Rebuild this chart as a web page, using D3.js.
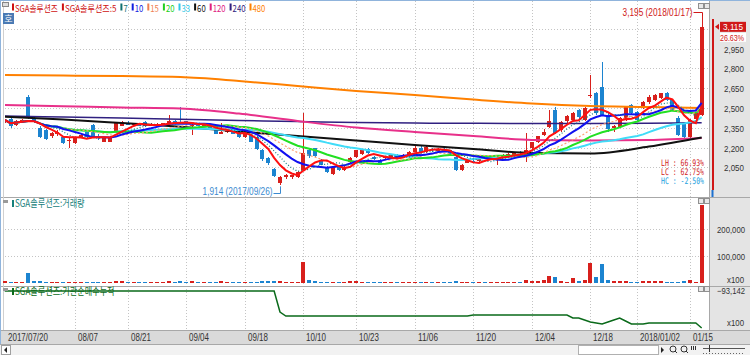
<!DOCTYPE html>
<html>
<head>
<meta charset="utf-8">
<script src="https://cdn.jsdelivr.net/npm/d3@7/dist/d3.min.js"></script>
<style>
  body { margin: 0; background: #fff; }
  svg text { font-family: "Liberation Sans", Arial, sans-serif; }
</style>
</head>
<body>
<div id="chart"></div>
<script>
// trading days on screen
const dates = [
  '2017-07-20','2017-07-21','2017-07-24','2017-07-25','2017-07-26','2017-07-27','2017-07-28','2017-07-31',
  '2017-08-01','2017-08-02','2017-08-03','2017-08-04','2017-08-07','2017-08-08','2017-08-09','2017-08-10',
  '2017-08-11','2017-08-14','2017-08-16','2017-08-17','2017-08-18','2017-08-21','2017-08-22','2017-08-23',
  '2017-08-24','2017-08-25','2017-08-28','2017-08-29','2017-08-30','2017-08-31','2017-09-01','2017-09-04',
  '2017-09-05','2017-09-06','2017-09-07','2017-09-08','2017-09-11','2017-09-12','2017-09-13','2017-09-14',
  '2017-09-15','2017-09-18','2017-09-19','2017-09-20','2017-09-21','2017-09-22','2017-09-25','2017-09-26',
  '2017-09-27','2017-09-28','2017-09-29','2017-10-10','2017-10-11','2017-10-12','2017-10-13','2017-10-16',
  '2017-10-17','2017-10-18','2017-10-19','2017-10-20','2017-10-23','2017-10-24','2017-10-25','2017-10-26',
  '2017-10-27','2017-10-30','2017-10-31','2017-11-01','2017-11-02','2017-11-03','2017-11-06','2017-11-07',
  '2017-11-08','2017-11-09','2017-11-10','2017-11-13','2017-11-14','2017-11-15','2017-11-16','2017-11-17',
  '2017-11-20','2017-11-21','2017-11-22','2017-11-23','2017-11-24','2017-11-27','2017-11-28','2017-11-29',
  '2017-11-30','2017-12-01','2017-12-04','2017-12-05','2017-12-06','2017-12-07','2017-12-08','2017-12-11',
  '2017-12-12','2017-12-13','2017-12-14','2017-12-15','2017-12-18','2017-12-19','2017-12-20','2017-12-21',
  '2017-12-22','2017-12-26','2017-12-27','2017-12-28','2018-01-02','2018-01-03','2018-01-04','2018-01-05',
  '2018-01-08','2018-01-09','2018-01-10','2018-01-11','2018-01-12','2018-01-15','2018-01-16','2018-01-17'
];

const opens = [
  2395,2415,2370,2400,2580,2420,2345,2330,2285,2300, 2280,2250,2235,2275,2315,2370,2290,2245,2245,2320,
  2365,2390,2375,2385,2395,2365,2375,2380,2385,2400, 2395,2400,2360,2370,2365,2360,2330,2305,2320,2325,
  2315,2280,2295,2280,2180,2125,2035,1935,1975,1975, 1975,2030,2180,2195,2105,2055,2000,2055,2030,2090,
  2130,2150,2190,2130,2105,2120,2130,2140,2135,2130, 2170,2200,2165,2190,2180,2185,2180,2130,2030,2085,
  2100,2095,2125,2115,2105,2130,2140,2145,2165,2130, 2200,2240,2295,2355,2485,2330,2400,2410,2485,2410,
  2590,2615,2660,2445,2345,2355,2410,2520,2470,2505, 2545,2560,2575,2610,2560,2425,2385,2280,2420,2450
];
const highs = [
  2420,2425,2410,2420,2600,2435,2360,2340,2320,2330, 2290,2275,2275,2300,2320,2380,2300,2275,2285,2395,
  2400,2400,2390,2390,2400,2385,2390,2390,2450,2410, 2505,2405,2385,2380,2375,2370,2335,2385,2335,2330,
  2320,2330,2300,2285,2190,2130,2045,1985,2000,1995, 2020,2460,2190,2200,2110,2060,2055,2060,2060,2130,
  2185,2185,2195,2135,2110,2140,2150,2150,2150,2175, 2210,2210,2210,2200,2195,2195,2185,2135,2075,2110,
  2110,2130,2135,2135,2135,2150,2160,2170,2175,2310, 2245,2290,2340,2485,2510,2400,2450,2470,2495,2510,
  2750,2625,2850,2460,2370,2430,2515,2530,2480,2550, 2600,2605,2615,2620,2570,2440,2395,2420,2470,3195
];
const lows = [
  2385,2350,2365,2390,2420,2385,2270,2255,2275,2290, 2230,2200,2230,2270,2275,2270,2260,2240,2240,2310,
  2360,2370,2365,2360,2355,2360,2365,2370,2380,2380, 2385,2380,2295,2360,2355,2345,2300,2300,2310,2300,
  2275,2275,2240,2185,2100,2070,1980,1914,1960,1965, 1970,2025,2125,2130,2065,2010,1995,2025,2025,2085,
  2125,2145,2155,2105,2065,2110,2120,2125,2130,2125, 2165,2165,2160,2170,2170,2170,2140,2025,2025,2080,
  2090,2090,2110,2110,2070,2125,2135,2140,2150,2090, 2190,2235,2290,2350,2305,2320,2390,2400,2420,2400,
  2575,2450,2440,2320,2320,2350,2400,2455,2405,2495, 2530,2555,2570,2555,2475,2290,2275,2275,2415,2440
];
const closes = [
  2410,2360,2400,2410,2430,2395,2280,2265,2310,2320, 2235,2260,2270,2295,2280,2280,2270,2270,2280,2390,
  2395,2375,2380,2365,2360,2375,2380,2385,2405,2385, 2390,2385,2370,2365,2370,2350,2305,2315,2330,2305,
  2280,2325,2245,2190,2110,2080,1985,1975,1990,1990, 2015,2160,2135,2135,2070,2015,2050,2030,2055,2125,
  2180,2180,2160,2110,2070,2130,2145,2135,2145,2165, 2200,2170,2205,2180,2185,2175,2145,2030,2065,2105,
  2095,2120,2115,2125,2125,2140,2150,2165,2160,2180, 2240,2285,2315,2405,2310,2395,2440,2460,2430,2500,
  2600,2460,2445,2340,2360,2425,2505,2460,2410,2545, 2580,2595,2610,2560,2480,2295,2280,2410,2460,3115
];

// volume, x100 shares
const volumes = [
  6000,5000,4000,4000,37000,9000,6000,5000,3000,3000, 5000,4000,3000,3000,3000,5000,3000,3000,4000,8000,
  6000,3000,3000,3000,3000,3000,3000,3000,7000,4000, 6000,4000,9000,3000,3000,3000,4000,7000,4000,4000,
  4000,5000,4000,5000,6000,6000,8000,9000,5000,5000, 5000,78000,12000,9000,5000,5000,5000,4000,4000,6000,
  6000,5000,4000,4000,4000,3000,3000,3000,3000,4000, 5000,3000,4000,3000,3000,3000,3000,6000,4000,4000,
  3000,3000,3000,3000,5000,3000,3000,4000,3000,12000, 8000,8000,10000,26000,22000,6000,5000,18000,6000,10000,
  74000,22000,70000,12000,6000,6000,6000,5000,5000,6000, 8000,6000,6000,5000,5000,5000,8000,10000,4000,289000
];

// institutional net buying, cumulative (x100)
const instCum = [
  -93142,-93142,-93142,-93142,-93142,-93142,-93142,-93142,-93142,-93142,
  -93142,-93142,-93142,-93142,-93142,-93142,-93142,-93142,-93142,-93142,
  -93142,-93142,-93142,-93142,-93142,-93142,-93142,-93142,-93142,-93142,
  -93142,-93142,-93142,-93142,-93142,-93142,-93142,-93142,-93142,-93142,
  -93142,-93142,-93142,-93142,-93142,-93142,-93142,-114142,-118142,-118142,
  -118142,-118142,-118142,-118142,-118142,-118142,-118142,-118142,-118142,-118142,
  -118142,-118142,-118142,-118142,-118142,-118142,-118142,-118142,-118142,-118142,
  -118142,-118142,-118142,-118142,-118142,-118142,-118142,-118142,-118142,-118142,
  -117142,-117142,-117142,-117142,-117142,-117142,-117142,-117142,-117142,-117142,
  -117142,-117142,-117142,-117142,-117142,-117142,-117142,-120142,-120142,-122142,
  -124142,-125142,-126142,-124142,-122142,-120142,-123142,-126142,-126142,-126142,
  -125142,-125142,-125142,-125142,-125142,-125142,-125142,-125142,-125142,-130142
];

// long averages at these bars
const longIdx = [0, 10, 20, 30, 40, 50, 60, 70, 80, 90, 100, 110, 119];
const ma60 = [2434, 2413, 2386, 2358, 2322, 2288, 2254, 2220, 2189, 2159, 2155, 2208, 2277];
const ma120 = [2523, 2513, 2504, 2496, 2458, 2402, 2352, 2318, 2288, 2258, 2254, 2258, 2273];
const ma240 = [2439, 2432, 2424, 2414, 2405, 2398, 2390, 2386, 2384, 2383, 2383, 2385, 2388];
const ma480 = [2750, 2746, 2742, 2735, 2705, 2667, 2629, 2598, 2564, 2534, 2515, 2508, 2500];

const priceTicks = [2050, 2200, 2350, 2500, 2650, 2800, 2950, 3100];
const volTicks = [100000, 200000];
const tickDates = ['2017-07-20','2017-08-07','2017-08-21','2017-09-04','2017-09-18','2017-10-10','2017-10-23',
  '2017-11-06','2017-11-20','2017-12-04','2017-12-18','2018-01-02','2018-01-15'];
const tickLabels = ['2017/07/20','08/07','08/21','09/04','09/18','10/10','10/23','11/06','11/20','12/04','12/18','2018/01/02','01/15'];

const legendNames = ['SGA솔루션즈', 'SGA솔루션즈:5', '7', '10', '15', '20', '33', '60', '120', '240', '480'];
const legendColors = ['#d01010', '#d01010', '#107070', '#1020e0', '#f08050', '#20d020', '#30c8e8', '#111', '#e0207f', '#302080', '#ff8000'];

const UP = '#d8201c', DOWN = '#1c84d0';
const KR = '"Noto Sans CJK KR", sans-serif';

const W = 750, H = 355;
const svg = d3.select('#chart').append('svg')
  .attr('width', W).attr('height', H)
  .style('display', 'block');

const x = d3.scaleBand().domain(dates).range([1.8, 704.6]);
const cx = d => x(d) + x.bandwidth() / 2;
const yP = d3.scaleLinear().domain([2050, 3100]).range([167.4, 28.8]);
const yV = d3.scaleLinear().domain([0, 200000]).range([283, 229]);
const yI = d3.scaleLinear().domain(d3.extent(instCum)).range([328, 291]);

function estW(s) {
  let w = 0;
  for (const ch of s) w += ch.charCodeAt(0) >= 0xAC00 ? 7.5 : 4.3;
  return w;
}
// narrow text: squeeze the glyphs horizontally to the width the HTS font takes
function label(g, s, tx, ty, o = {}) {
  const t = g.append('text')
    .attr('fill', o.color || '#333')
    .style('font-size', (o.size || 10) + 'px')
    .text(s);
  if (o.anchor) t.attr('text-anchor', o.anchor);
  if (o.family) t.style('font-family', o.family);
  const nat = t.node().getComputedTextLength() || 1;
  const sx = (o.w || estW(s)) / nat;
  t.attr('transform', `translate(${tx},${ty}) scale(${sx.toFixed(3)},1)`);
  return t;
}
const fmt = d3.format(',');

// backgrounds
svg.append('rect').attr('width', W).attr('height', H).attr('fill', '#fff');
svg.append('rect').attr('x', 710).attr('y', 0).attr('width', 40).attr('height', 330).attr('fill', '#e4e4e4');
svg.append('rect').attr('x', 0).attr('y', 330).attr('width', W).attr('height', 14).attr('fill', '#dadada');
svg.append('rect').attr('x', 0).attr('y', 344).attr('width', W).attr('height', 11).attr('fill', '#f2f2f2');

// grid
const grid = svg.append('g').attr('stroke', '#c4c4c4').attr('stroke-dasharray', '1,2');
grid.selectAll('line.h').data(priceTicks).enter().append('line')
  .attr('x1', 5).attr('x2', 709)
  .attr('y1', d => Math.round(yP(d)) + 0.5).attr('y2', d => Math.round(yP(d)) + 0.5);
grid.selectAll('line.v').data(volTicks).enter().append('line')
  .attr('x1', 5).attr('x2', 709)
  .attr('y1', d => Math.round(yV(d)) + 0.5).attr('y2', d => Math.round(yV(d)) + 0.5);
grid.selectAll('line.t').data(tickDates.slice(1)).enter().append('line')
  .attr('x1', d => Math.round(cx(d)) + 0.5).attr('x2', d => Math.round(cx(d)) + 0.5)
  .attr('y1', 1).attr('y2', 330);

// frame lines
const frame = svg.append('g').attr('stroke', '#a8a8a8').attr('shape-rendering', 'crispEdges');
frame.append('line').attr('x1', 0).attr('x2', W).attr('y1', 197.5).attr('y2', 197.5);
frame.append('line').attr('x1', 0).attr('x2', W).attr('y1', 286.5).attr('y2', 286.5);
frame.append('line').attr('x1', 709.5).attr('x2', 709.5).attr('y1', 0).attr('y2', 330);
frame.append('line').attr('x1', 0).attr('x2', W).attr('y1', 330.5).attr('y2', 330.5);
frame.append('line').attr('x1', 0).attr('x2', W).attr('y1', 344.5).attr('y2', 344.5);
frame.append('line').attr('x1', 3.5).attr('x2', 3.5).attr('y1', 0).attr('y2', 330).attr('stroke', '#d0d0d0');
svg.append('line').attr('x1', 0).attr('x2', W).attr('y1', 0.5).attr('y2', 0.5).attr('stroke', '#90b4dc');
svg.append('line').attr('x1', 0.5).attr('x2', 0.5).attr('y1', 0).attr('y2', 344).attr('stroke', '#90b4dc');

// price panel
svg.append('clipPath').attr('id', 'clipP').append('rect')
  .attr('x', 5).attr('y', 1).attr('width', 704).attr('height', 196);
const pricePanel = svg.append('g').attr('clip-path', 'url(#clipP)');

const candles = pricePanel.append('g').attr('shape-rendering', 'crispEdges')
  .selectAll('g').data(dates).enter().append('g')
  .attr('fill', (d, i) => closes[i] >= opens[i] ? UP : DOWN);
candles.append('rect')
  .attr('x', d => Math.round(cx(d) - 2) + 2)
  .attr('width', 1)
  .attr('y', (d, i) => yP(highs[i]))
  .attr('height', (d, i) => yP(lows[i]) - yP(highs[i]));
candles.append('rect')
  .attr('x', d => Math.round(cx(d) - 2))
  .attr('width', 4)
  .attr('y', (d, i) => yP(Math.max(opens[i], closes[i])))
  .attr('height', (d, i) => Math.max(1, Math.abs(yP(opens[i]) - yP(closes[i]))));

// moving averages
function movingAvg(n) {
  return closes.map((c, i) => [i, d3.mean(closes.slice(Math.max(0, i - n + 1), i + 1))]);
}
const maLine = d3.line().x(d => cx(dates[d[0]])).y(d => yP(d[1]));
const maLong = d3.line().curve(d3.curveMonotoneX).x(d => cx(dates[d[0]])).y(d => yP(d[1]));
const lines = pricePanel.append('g').attr('fill', 'none');
[[ma480, '#ff8000', 2], [ma240, '#302080', 1.5], [ma120, '#e8308a', 2], [ma60, '#111', 2]].forEach(s => {
  lines.append('path')
    .attr('d', maLong(longIdx.map((k, j) => [k, s[0][j]])))
    .attr('stroke', s[1]).attr('stroke-width', s[2]);
});
[[33, '#40dcf8', 2, null], [20, '#22e022', 2, null], [15, '#ffa070', 1.2, '2,2'],
 [10, '#1010f0', 2, null], [7, '#108080', 1.2, '1,2'], [5, '#ff1010', 2, null]].forEach(s => {
  lines.append('path')
    .attr('d', maLine(movingAvg(s[0])))
    .attr('stroke', s[1]).attr('stroke-width', s[2])
    .attr('stroke-dasharray', s[3]);
});

// high / low markers
const hiIdx = d3.maxIndex(highs), loIdx = d3.minIndex(lows);
const hiText = fmt(highs[hiIdx]) + ' (' + dates[hiIdx].replace(/-/g, '/') + ')';
const loText = fmt(lows[loIdx]) + ' (' + dates[loIdx].replace(/-/g, '/') + ')';
const hx = Math.round(cx(dates[hiIdx])) + 0.5, lx = Math.round(cx(dates[loIdx])) + 0.5;
label(svg, hiText, hx - 10, 16, { color: '#d01818', anchor: 'end', w: 70 });
svg.append('path').attr('fill', 'none').attr('stroke', '#d01818')
  .attr('d', `M${hx - 9},12.5H${hx}V${yP(highs[hiIdx])}`);
label(svg, loText, lx - 8, 195, { color: '#3a8ad0', anchor: 'end', w: 70 });
svg.append('path').attr('fill', 'none').attr('stroke', '#3a8ad0')
  .attr('d', `M${lx - 7},193.5H${lx}V${yP(lows[loIdx]) + 1}`);

// LH / LC / HC
const last = closes.length - 1;
const lh = (highs[hiIdx] / lows[loIdx] - 1) * 100;
const lc = (closes[last] / lows[loIdx] - 1) * 100;
const hc = (closes[last] / highs[hiIdx] - 1) * 100;
[['LH : ' + lh.toFixed(2) + '%', '#d01818', 166], ['LC : ' + lc.toFixed(2) + '%', '#d01818', 175],
 ['HC : ' + hc.toFixed(2) + '%', '#20a0e0', 184]].forEach(r => {
  label(svg, r[0], 704, r[2], { color: r[1], anchor: 'end', w: 43, family: '"DejaVu Sans Mono", monospace', size: 9 });
});

// right price axis
priceTicks.filter(d => d < 3000).forEach(d => {
  label(svg, fmt(d), 744, yP(d) + 4, { anchor: 'end', color: '#333', size: 9.5, w: 20 });
});
// current price tag
const chg = (closes[last] / closes[last - 1] - 1) * 100;
const ty = yP(closes[last]);
svg.append('line').attr('x1', 713).attr('x2', 713).attr('y1', 19).attr('y2', 190)
  .attr('stroke', '#d01818').attr('stroke-width', 2);
svg.append('line').attr('x1', 712.5).attr('x2', 712.5).attr('y1', 190).attr('y2', 197)
  .attr('stroke', '#1c70d0').attr('stroke-width', 2);
svg.append('path').attr('fill', '#d01818').attr('d', `M715,${ty}l4,-3v6z`);
svg.append('rect').attr('x', 720).attr('y', ty - 5).attr('width', 26).attr('height', 10).attr('fill', '#d01818');
label(svg, fmt(closes[last]), 743, ty + 3.5, { color: '#fff', anchor: 'end', w: 20, size: 9.5 });
svg.append('rect').attr('x', 720).attr('y', ty + 6).attr('width', 26).attr('height', 9).attr('fill', '#fff');
label(svg, chg.toFixed(2) + '%', 744, ty + 14, { color: '#d01818', anchor: 'end', w: 24, size: 9 });

// volume panel
svg.append('g').attr('shape-rendering', 'crispEdges')
  .selectAll('rect').data(dates).enter().append('rect')
  .attr('x', d => Math.round(cx(d) - 2))
  .attr('width', 4)
  .attr('y', (d, i) => yV(volumes[i]))
  .attr('height', (d, i) => 283 - yV(volumes[i]))
  .attr('fill', (d, i) => closes[i] >= opens[i] ? UP : DOWN);
volTicks.forEach(d => label(svg, fmt(d), 745, yV(d) + 4, { anchor: 'end', size: 9, w: 28 }));
label(svg, 'x100', 744, 283, { anchor: 'end', size: 9.5, w: 17 });

// institutional cumulative panel
const instLine = d3.line().x((d, i) => cx(dates[i])).y(d => yI(d));
svg.append('path').attr('d', instLine(instCum))
  .attr('fill', 'none').attr('stroke', '#0a6a1a').attr('stroke-width', 1.5);
label(svg, fmt(d3.max(instCum)), 745, 294, { anchor: 'end', size: 9, w: 28 });
label(svg, 'x100', 744, 326, { anchor: 'end', size: 9.5, w: 17 });

// x axis labels
tickDates.forEach((d, j) => {
  const tx = j === 0 ? 8 : Math.round(cx(d)) + 3;
  label(svg, tickLabels[j], tx, 341, { color: '#333', size: 11, w: tickLabels[j].length * 4 });
});

// legend row
let lx0 = 12;
legendNames.forEach((n, j) => {
  svg.append('rect').attr('x', lx0).attr('y', 3.5).attr('width', 2).attr('height', 7).attr('fill', legendColors[j]);
  const w = estW(n);
  label(svg, n, lx0 + 3, 11.5, { color: legendColors[j], w: w, family: KR, size: 9.5 });
  lx0 += 3 + w + 4;
});

// panel headers
[['SGA솔루션즈:거래량', 207, '#16807a'], ['SGA솔루션즈:기관순매수누적', 295, '#0a6a1a']].forEach(h => {
  svg.append('rect').attr('x', 3).attr('y', h[1] - 7).attr('width', 5).attr('height', 3).attr('fill', '#9a9a9a');
  svg.append('rect').attr('x', 12).attr('y', h[1] - 7).attr('width', 2).attr('height', 7).attr('fill', h[2]);
  label(svg, h[0], 15, h[1], { color: h[2], family: KR, size: 10 });
});

// small widgets
svg.append('rect').attr('x', 2.5).attr('y', 2.5).attr('width', 6).attr('height', 4).attr('fill', '#ddd').attr('stroke', '#888');
svg.append('rect').attr('x', 3).attr('y', 13).attr('width', 11).attr('height', 11).attr('fill', '#4a7ab4');
svg.append('text').attr('x', 8.5).attr('y', 22).attr('text-anchor', 'middle').attr('fill', '#fff')
  .style('font-size', '9px').style('font-family', KR).text('호');
[5, 200, 288].forEach(yy => {
  [698, 704].forEach(xx => {
    svg.append('rect').attr('x', xx + 0.5).attr('y', yy - 1.5).attr('width', 5).attr('height', 5)
      .attr('fill', '#e8e8e8').attr('stroke', '#909090');
  });
});

// scroll bar row
svg.append('rect').attr('x', 1.5).attr('y', 345.5).attr('width', 9).attr('height', 9).attr('fill', '#fff').attr('stroke', '#a0a0a0');
svg.append('path').attr('d', 'M4,350l3,-3v6z').attr('fill', '#222');
svg.append('rect').attr('x', 578.5).attr('y', 345.5).attr('width', 80).attr('height', 9).attr('fill', '#fff').attr('stroke', '#b0b0b0');
svg.append('path').attr('d', 'M661,347v6l3,-3z').attr('fill', '#222');
[673, 684].forEach(xx => {
  svg.append('circle').attr('cx', xx).attr('cy', 349).attr('r', 3).attr('fill', 'none').attr('stroke', '#333');
  svg.append('line').attr('x1', xx + 2).attr('y1', 351).attr('x2', xx + 4).attr('y2', 353).attr('stroke', '#333');
});
[691, 693, 695].forEach(xx => {
  svg.append('line').attr('x1', xx + 0.5).attr('x2', xx + 0.5).attr('y1', 346).attr('y2', 350).attr('stroke', '#333');
});
svg.append('line').attr('x1', 703).attr('x2', 745).attr('y1', 348.5).attr('y2', 348.5).attr('stroke', '#555');
svg.append('line').attr('x1', 709.5).attr('x2', 709.5).attr('y1', 345).attr('y2', 352).attr('stroke', '#333');
svg.append('line').attr('x1', 703).attr('x2', 745).attr('y1', 353.5).attr('y2', 353.5)
  .attr('stroke', '#666').attr('stroke-dasharray', '1,2');
</script>
</body>
</html>
